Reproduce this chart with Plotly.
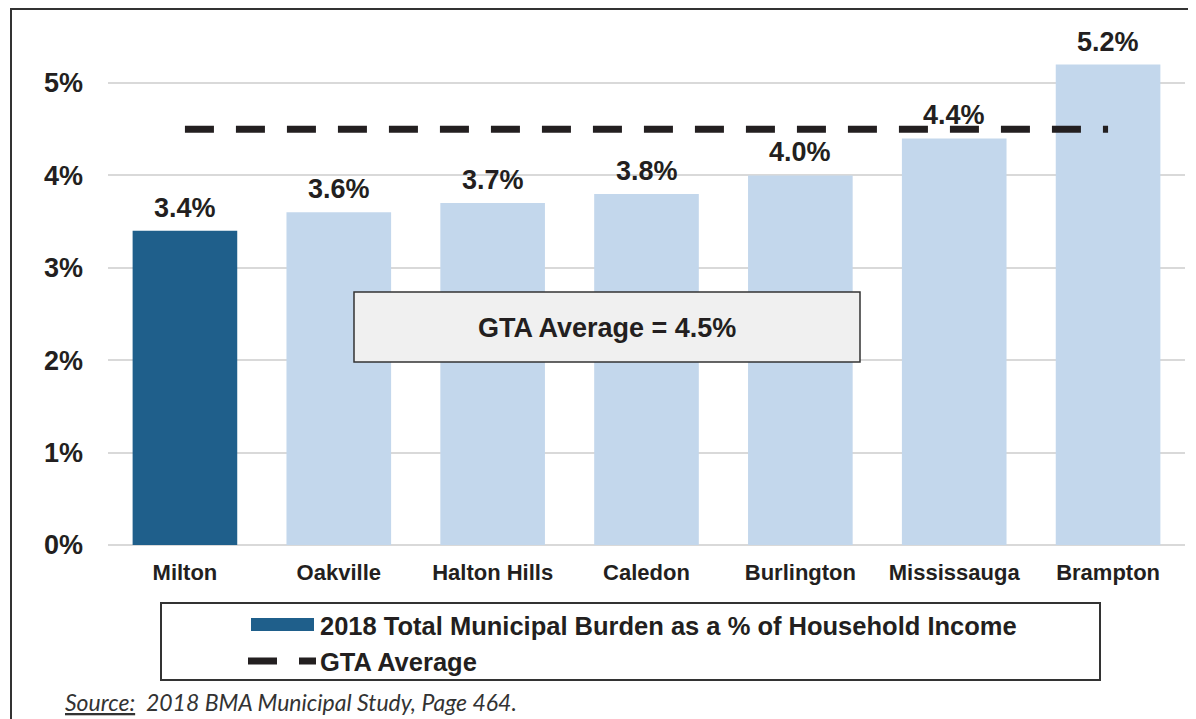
import plotly.graph_objects as go

# ---------------- data ----------------
categories = ["Milton", "Oakville", "Halton Hills", "Caledon", "Burlington", "Mississauga", "Brampton"]
burden_pct = [3.4, 3.6, 3.7, 3.8, 4.0, 4.4, 5.2]
highlight_city = "Milton"
gta_average = 4.5
y_tick_values = [0, 1, 2, 3, 4, 5]
y_tick_labels = ["0%", "1%", "2%", "3%", "4%", "5%"]
series_name = "2018 Total Municipal Burden as a % of Household Income"
average_name = "GTA Average"
average_box_text = "GTA Average = 4.5%"
source_label = "Source:"
source_text = "2018 BMA Municipal Study, Page 464."

# ---------------- style ----------------
OFF = 8                      # page body margin
W, H = 1196 - OFF, 719 - OFF
L, R, T, B = 100, 11, 20, 174
PX_PER_UNIT = 92.4
plot_w = W - L - R
plot_h = H - T - B
y_max = plot_h / PX_PER_UNIT

FONT = "Liberation Sans, Arial, sans-serif"
TXT = "#231f20"
DARK_BLUE = "#1f5f8b"
LIGHT_BLUE = "#c3d7ec"
GRID = "#d9d9d9"


def px_x(sx):
    return (sx - OFF - L) / plot_w


def px_y(sy):
    return (H - B - (sy - OFF)) / plot_h


bar_colors = [DARK_BLUE if c == highlight_city else LIGHT_BLUE for c in categories]

fig = go.Figure()
fig.add_trace(go.Bar(
    x=categories, y=burden_pct, name=series_name,
    marker=dict(color=bar_colors, line=dict(width=0)),
    showlegend=False, hoverinfo="x+y",
))
fig.add_trace(go.Scatter(
    x=[categories[0], categories[-1]], y=[gta_average, gta_average],
    mode="lines", name=average_name,
    line=dict(color=TXT, width=7, dash="29px,22px"),
    showlegend=False,
))

annotations = []
for c, v in zip(categories, burden_pct):
    annotations.append(dict(
        x=c, y=v, xref="x", yref="y", text=f"{v:.1f}%", showarrow=False,
        yanchor="bottom", yshift=6,
        font=dict(family=FONT, size=27, color=TXT, weight="bold"),
    ))

# GTA average call-out box text
annotations.append(dict(
    x=px_x(607), y=px_y(328), xref="paper", yref="paper", text=average_box_text,
    showarrow=False, xanchor="center", yanchor="middle",
    font=dict(family=FONT, size=27, color=TXT, weight="bold"),
))

# legend texts
annotations.append(dict(
    x=px_x(318), y=px_y(626), xref="paper", yref="paper", text=series_name,
    showarrow=False, xanchor="left", yanchor="middle",
    font=dict(family=FONT, size=25.5, color=TXT, weight="bold"),
))
annotations.append(dict(
    x=px_x(318), y=px_y(662), xref="paper", yref="paper", text=average_name,
    showarrow=False, xanchor="left", yanchor="middle",
    font=dict(family=FONT, size=25.5, color=TXT, weight="bold"),
))

# source note
annotations.append(dict(
    x=px_x(63), y=px_y(702), xref="paper", yref="paper",
    text=f"<u>{source_label}</u>  {source_text}",
    showarrow=False, xanchor="left", yanchor="middle",
    font=dict(family="Lato, Open Sans, sans-serif", size=23, color="#333333", style="italic"),
))

shapes = [
    # outer frame
    dict(type="rect", xref="paper", yref="paper",
         x0=px_x(11), x1=px_x(1210), y0=px_y(9), y1=px_y(740),
         line=dict(color="#333333", width=2), fillcolor="rgba(0,0,0,0)", layer="above"),
    # GTA average box
    dict(type="rect", xref="paper", yref="paper",
         x0=px_x(354), x1=px_x(860), y0=px_y(292), y1=px_y(362),
         line=dict(color="#333333", width=1.5), fillcolor="#f0f0f0", layer="above"),
    # legend box
    dict(type="rect", xref="paper", yref="paper",
         x0=px_x(161), x1=px_x(1100), y0=px_y(603), y1=px_y(680),
         line=dict(color="#333333", width=2), fillcolor="white", layer="above"),
    # legend swatch (bar)
    dict(type="rect", xref="paper", yref="paper",
         x0=px_x(251), x1=px_x(314), y0=px_y(618), y1=px_y(631),
         line=dict(width=0), fillcolor=DARK_BLUE, layer="above"),
    # legend swatch (dashed line)
    dict(type="line", xref="paper", yref="paper",
         x0=px_x(248), x1=px_x(316), y0=px_y(661), y1=px_y(661),
         line=dict(color=TXT, width=7, dash="29px,22px"), layer="above"),
]

fig.update_layout(
    width=W, height=H,
    margin=dict(l=L, r=R, t=T, b=B, autoexpand=False),
    paper_bgcolor="white", plot_bgcolor="white",
    bargap=0.32,
    showlegend=False,
    annotations=annotations,
    shapes=shapes,
    xaxis=dict(
        type="category", showgrid=False, showline=False, ticks="",
        tickfont=dict(family=FONT, size=22, color=TXT, weight="bold"),
        ticklabelstandoff=12,
    ),
    yaxis=dict(
        range=[0, y_max], tickvals=y_tick_values, ticktext=y_tick_labels,
        showgrid=True, gridcolor=GRID, gridwidth=1.5,
        zeroline=True, zerolinecolor=GRID, zerolinewidth=2,
        showline=False, ticks="",
        tickfont=dict(family=FONT, size=27, color=TXT, weight="bold"),
        ticklabelstandoff=24,
    ),
)

fig.write_html("out.html")
